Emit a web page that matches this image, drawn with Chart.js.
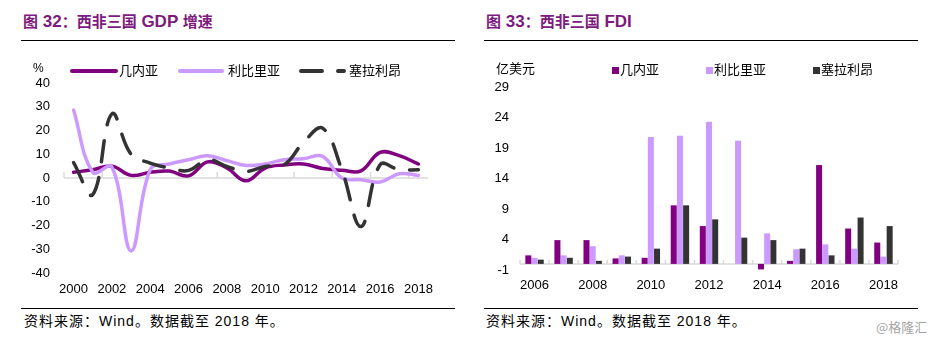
<!DOCTYPE html>
<html>
<head>
<meta charset="utf-8">
<script src="https://cdn.jsdelivr.net/npm/chart.js@4"></script>
<style>
  html, body { margin: 0; padding: 0; background: #fff; }
  body { width: 936px; height: 338px; position: relative; overflow: hidden;
         font-family: "Liberation Sans", "Noto Sans CJK SC", sans-serif; color: #000; }
  .abs { position: absolute; white-space: nowrap; }
  .title { color: #7d1a7d; font-weight: bold; line-height: 1; }
  .title .cj { font-family: "Noto Sans CJK SC", sans-serif; font-size: 15px; }
  .title .la { font-family: "Liberation Sans", sans-serif; font-size: 17px; }
  .rule { position: absolute; height: 0; border-top: 1.5px solid #000; }
  .src { font-size: 14px; line-height: 1; letter-spacing: 1px; font-family: "Liberation Sans", "Noto Sans CJK SC", sans-serif; }
  .leg { font-family: "Noto Sans CJK SC", sans-serif; font-size: 13px; line-height: 1; }
  canvas { position: absolute; top: 0; }
</style>
</head>
<body>
<!-- Left panel headings -->
<div class="abs title" style="left:23px; top:13px;"><span class="cj">图</span><span class="la"> 32</span><span class="cj">：西非三国</span><span class="la"> GDP </span><span class="cj">增速</span></div>
<div class="rule" style="left:21px; top:40px; width:434px;"></div>
<div class="rule" style="left:21px; top:308px; width:434px;"></div>
<div class="abs src" style="left:24px; top:314px;">资料来源：Wind。数据截至 2018 年。</div>

<!-- Right panel headings -->
<div class="abs title" style="left:486px; top:13px;"><span class="cj">图</span><span class="la"> 33</span><span class="cj">：西非三国</span><span class="la"> FDI</span></div>
<div class="rule" style="left:484px; top:40px; width:434px;"></div>
<div class="rule" style="left:484px; top:308px; width:434px;"></div>
<div class="abs src" style="left:486px; top:314px;">资料来源：Wind。数据截至 2018 年。</div>
<div class="abs" style="left:876px; top:317px; font-size:13px; color:#a6a6a6; font-family:'Noto Sans CJK SC',sans-serif;">@格隆汇</div>

<canvas id="gdp" width="470" height="310" style="left:0;"></canvas>
<canvas id="fdi" width="466" height="310" style="left:470px;"></canvas>

<!-- Left legend and unit -->
<div class="abs leg" style="left:33px; top:62px; font-family:'Liberation Sans',sans-serif; font-size:12px;">%</div>
<svg class="abs" style="left:0; top:60px;" width="470" height="24">
  <line x1="72" y1="11" x2="116" y2="11" stroke="#800080" stroke-width="4" stroke-linecap="round"/>
  <line x1="180" y1="11" x2="222" y2="11" stroke="#cc99ff" stroke-width="4" stroke-linecap="round"/>
  <line x1="301" y1="11" x2="344" y2="11" stroke="#333333" stroke-width="4" stroke-linecap="round" stroke-dasharray="21 16"/>
</svg>
<div class="abs leg" style="left:119px; top:63px;">几内亚</div>
<div class="abs leg" style="left:228px; top:63px;">利比里亚</div>
<div class="abs leg" style="left:349px; top:63px;">塞拉利昂</div>

<!-- Right legend and unit -->
<div class="abs leg" style="left:496px; top:61px;">亿美元</div>
<div class="abs" style="left:612px; top:67px; width:7px; height:7px; background:#800080;"></div>
<div class="abs leg" style="left:620px; top:62px;">几内亚</div>
<div class="abs" style="left:706px; top:67px; width:7px; height:7px; background:#cc99ff;"></div>
<div class="abs leg" style="left:714px; top:62px;">利比里亚</div>
<div class="abs" style="left:813px; top:67px; width:7px; height:7px; background:#333333;"></div>
<div class="abs leg" style="left:821px; top:62px;">塞拉利昂</div>

<script>
// ---------- Data ----------
const gdpYears = ['2000','2001','2002','2003','2004','2005','2006','2007','2008','2009',
                  '2010','2011','2012','2013','2014','2015','2016','2017','2018'];
const guineaGDP  = [2.4, 3.5, 5.0, 1.1, 2.4, 2.9, 0.9, 6.8, 4.2, -1.2, 4.2, 5.5, 5.9, 4.0, 3.3, 3.0, 10.8, 9.4, 5.9];
const liberiaGDP = [28.6, 2.4, 4.6, -30.7, 3.5, 5.9, 7.7, 9.4, 7.3, 5.3, 5.9, 7.7, 8.1, 9.1, 0.0, -0.7, -1.7, 1.8, 1.1];
const sierraGDP  = [6.5, -7.0, 27.0, 10.0, 6.3, 4.2, 3.2, 7.7, 4.9, 2.8, 4.9, 5.6, 15.0, 21.0, 3.5, -20.4, 5.6, 3.5, 3.5];
const gdpTicks = { min: -40, max: 40, step: 10 };

const fdiYears = ['2006','2007','2008','2009','2010','2011','2012','2013','2014','2015','2016','2017','2018'];
const guineaFDI  = [1.4, 3.9, 3.9, 0.9, 1.0, 9.6, 6.2, 0, -0.9, 0.5, 16.2, 5.8, 3.5];
const liberiaFDI = [1.0, 1.4, 2.9, 1.4, 20.8, 21.0, 23.3, 20.2, 5.0, 2.4, 3.2, 2.5, 1.2];
const sierraFDI  = [0.7, 1.0, 0.5, 1.2, 2.5, 9.6, 7.3, 4.3, 3.9, 2.5, 1.4, 7.6, 6.2];
const fdiTicks = { min: -1, max: 29, step: 5 };

const seriesNames = ['几内亚', '利比里亚', '塞拉利昂'];
const colors = ['#800080', '#cc99ff', '#333333'];

// ---------- Zero axis line with inward tick marks ----------
const zeroAxis = {
  id: 'zeroAxis',
  beforeDatasetsDraw(chart, args, opts) {
    const { ctx, chartArea, scales } = chart;
    const x = scales.x, y = scales.y;
    const y0 = y.getPixelForValue(0);
    const n = x.getLabels().length;
    const w = (chartArea.right - chartArea.left) / n;
    ctx.save();
    ctx.strokeStyle = '#d9d9d9';
    ctx.lineWidth = 1.5;
    ctx.beginPath();
    ctx.moveTo(chartArea.left, y0);
    ctx.lineTo(chartArea.right, y0);
    for (let i = 0; i <= opts.last; i += opts.every) {
      const px = chartArea.left + i * w;
      ctx.moveTo(px, y0);
      ctx.lineTo(px, y0 - opts.len);
    }
    ctx.stroke();
    ctx.restore();
  }
};

const tickFont = { family: 'Liberation Sans', size: 13 };

function everyOther(v, i) { return i % 2 === 0 ? this.getLabelForValue(v) : ''; }

// ---------- GDP line chart ----------
new Chart(document.getElementById('gdp'), {
  type: 'line',
  data: {
    labels: gdpYears,
    datasets: [
      { label: seriesNames[0], data: guineaGDP, borderColor: colors[0], order: 2 },
      { label: seriesNames[1], data: liberiaGDP, borderColor: colors[1], order: 1 },
      { label: seriesNames[2], data: sierraGDP, borderColor: colors[2], order: 0,
        borderDash: [21, 16] }
    ]
  },
  options: {
    responsive: false,
    animation: false,
    events: [],
    layout: { padding: { left: 10, top: 83, right: 42, bottom: 0 } },
    elements: {
      line: { tension: 0.4, borderWidth: 3.5, borderCapStyle: 'round', borderJoinStyle: 'round', fill: false },
      point: { radius: 0 }
    },
    plugins: { legend: { display: false }, tooltip: { enabled: false },
               zeroAxis: { every: 2, last: 18, len: 6 } },
    scales: {
      x: {
        type: 'category', offset: true,
        grid: { display: false, drawTicks: false }, border: { display: false },
        ticks: { autoSkip: false, maxRotation: 0, padding: 9, color: '#000', font: tickFont, callback: everyOther },
        afterFit: s => { s.height = 37; }
      },
      y: {
        min: gdpTicks.min, max: gdpTicks.max,
        grid: { display: false, drawTicks: false }, border: { display: false },
        ticks: { stepSize: gdpTicks.step, padding: 14, color: '#000', font: tickFont },
        afterFit: s => { s.width = 54; }
      }
    }
  },
  plugins: [zeroAxis]
});

// ---------- FDI bar chart ----------
new Chart(document.getElementById('fdi'), {
  type: 'bar',
  data: {
    labels: fdiYears,
    datasets: [
      { label: seriesNames[0], data: guineaFDI, backgroundColor: colors[0] },
      { label: seriesNames[1], data: liberiaFDI, backgroundColor: colors[1] },
      { label: seriesNames[2], data: sierraFDI, backgroundColor: colors[2] }
    ]
  },
  options: {
    responsive: false,
    animation: false,
    events: [],
    layout: { padding: { left: 10, top: 87, right: 38, bottom: 0 } },
    datasets: { bar: { categoryPercentage: 0.64, barPercentage: 0.97 } },
    plugins: { legend: { display: false }, tooltip: { enabled: false },
               zeroAxis: { every: 1, last: 13, len: 4 } },
    scales: {
      x: {
        grid: { display: false, drawTicks: false }, border: { display: false },
        ticks: { autoSkip: false, maxRotation: 0, padding: 8, color: '#000', font: tickFont, callback: everyOther },
        afterFit: s => { s.height = 40; }
      },
      y: {
        min: fdiTicks.min, max: fdiTicks.max,
        grid: { display: false, drawTicks: false }, border: { display: false },
        ticks: { stepSize: fdiTicks.step, padding: 11, color: '#000', font: tickFont },
        afterFit: s => { s.width = 40; }
      }
    }
  },
  plugins: [zeroAxis]
});
</script>
</body>
</html>
